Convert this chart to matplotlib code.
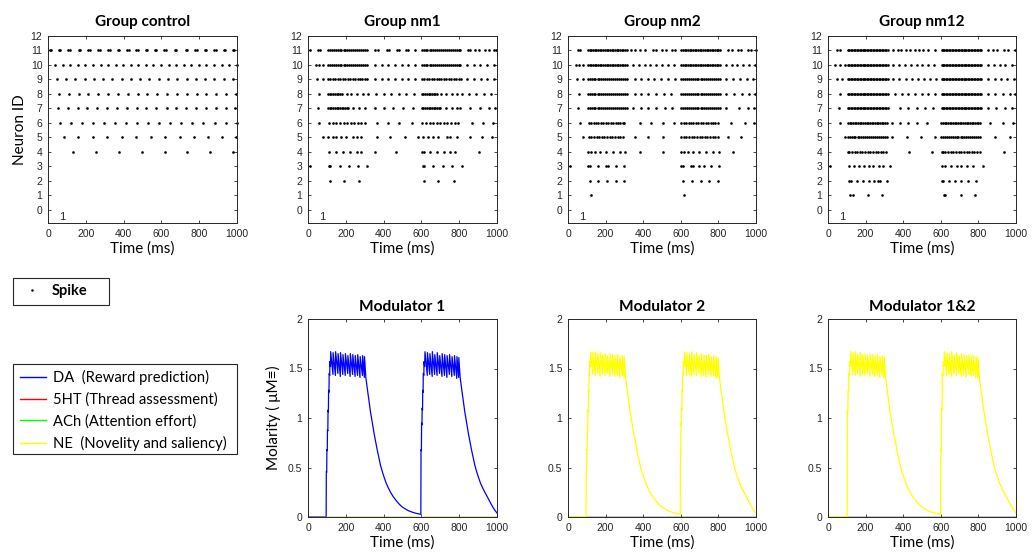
import matplotlib
matplotlib.use("Agg")
import matplotlib.pyplot as plt
from matplotlib.lines import Line2D
from matplotlib.patches import Rectangle
from matplotlib.ticker import FormatStrFormatter

# ---- spike trains (ms), one list per neuron ----
burst_solid_a = [106, 113, 121, 129, 137, 145, 152, 160, 168, 176, 184, 191, 199, 207,
                 215, 223, 230, 238, 246, 254, 262, 269, 277, 285, 293, 301, 309, 317]
burst_solid_b = [604, 611, 619, 627, 635, 643, 650, 658, 666, 674, 682, 689, 697, 705,
                 713, 721, 728, 736, 744, 752, 760, 767, 775, 783, 791, 799, 807, 815]
burst_dense_a = [106, 115, 124, 133, 142, 151, 160, 169, 178, 187, 196, 205, 214, 223,
                 232, 241, 250, 259, 268, 277, 286, 295, 304, 312]
burst_dense_b = [602, 611, 620, 629, 638, 647, 656, 665, 674, 683, 692, 701, 710, 719,
                 728, 737, 746, 755, 764, 773, 782, 791, 800, 808]
burst_mid_a = [106, 116, 126, 136, 146, 157, 167, 177, 188, 198, 208, 219, 229, 239,
               250, 260, 270, 281, 291, 301, 312]
burst_mid_b = [602, 612, 622, 632, 643, 653, 663, 674, 684, 694, 705, 715, 725, 736,
               746, 756, 767, 777, 787, 797, 806]

control_spikes = {
    11: [8, 15, 58, 66, 108, 116, 163, 170, 214, 222, 266, 274, 318, 326, 368, 376, 418, 426,
         468, 475, 518, 526, 566, 574, 616, 623, 670, 678, 728, 735, 778, 786, 830, 838,
         880, 887, 930, 937, 978, 986],
    10: [38, 78, 118, 158, 198, 238, 278, 318, 358, 398, 438, 478, 518, 558, 598, 638, 678,
         718, 758, 798, 838, 878, 918, 958, 998],
    9: [48, 96, 145, 194, 243, 292, 341, 390, 439, 488, 537, 586, 635, 684, 733, 782, 831,
        880, 929, 978],
    8: [59, 110, 162, 214, 266, 318, 370, 422, 474, 526, 578, 630, 682, 734, 786, 838, 890,
        942, 994],
    7: [53, 107, 160, 208, 261, 311, 364, 417, 471, 520, 573, 627, 678, 731, 785, 834, 887,
        941, 990],
    6: [62, 120, 178, 236, 295, 353, 412, 470, 529, 588, 646, 705, 764, 822, 881, 940, 998],
    5: [83, 160, 237, 314, 391, 467, 544, 620, 697, 773, 849, 922, 996],
    4: [133, 255, 376, 497, 617, 738, 858, 979],
}

nm1_spikes = {
    11: [12, 53, 65] + burst_mid_a + [357, 372, 416, 428, 469, 483, 517, 531, 566]
        + burst_mid_b + [844, 858, 885, 903, 938, 956, 982, 996],
    10: [41, 58, 80] + burst_mid_a + [354, 389, 425, 460, 496, 531, 566]
        + burst_mid_b + [841, 876, 912, 947, 982],
    9: [48, 80, 106, 119, 132, 145, 158, 171, 184, 197, 210, 223, 236, 249, 262, 275, 288,
        301, 314, 355, 390, 425, 460, 496, 531, 566, 602, 615, 628, 641, 654, 667, 680, 693,
        706, 719, 732, 745, 758, 771, 784, 797, 808, 843, 878, 914, 949, 984],
    8: [58, 106, 115, 124, 133, 142, 151, 160, 169, 178, 205, 230, 260, 290, 318, 360, 400,
        440, 480, 520, 560, 602, 611, 620, 629, 638, 647, 656, 665, 674, 683, 705, 730, 760,
        790, 815, 850, 890, 930, 970],
    7: [53, 106, 115, 124, 133, 142, 151, 160, 169, 178, 187, 196, 205, 212, 239, 269, 301,
        354, 402, 451, 504, 554, 602, 611, 620, 629, 638, 647, 656, 665, 674, 683, 692, 700,
        730, 760, 790, 806, 858, 912, 956, 991],
    6: [58, 112, 132, 150, 170, 188, 207, 226, 245, 264, 283, 300, 363, 421, 483, 549, 605,
        624, 643, 662, 681, 700, 719, 738, 757, 776, 795, 867, 926, 977],
    5: [80, 106, 133, 150, 177, 200, 239, 257, 283, 363, 434, 513, 584, 611, 637, 664, 690,
        735, 752, 788, 858, 920, 973],
    4: [112, 150, 186, 221, 257, 283, 354, 466, 605, 615, 646, 681, 717, 749, 779, 903],
    3: [10, 112, 119, 168, 218, 266, 313, 607, 614, 664, 713, 761, 814],
    2: [115, 191, 271, 614, 690, 770],
}

nm2_spikes = {
    11: [53, 66] + burst_dense_a + [337, 355, 385, 408, 453, 467, 502, 519, 551, 568]
        + burst_dense_b + [852, 870, 906, 920, 959, 972, 998],
    10: [41, 58, 80] + burst_dense_a + [346, 378, 408, 438, 470, 502, 532, 563]
        + burst_dense_b + [840, 870, 900, 929, 964, 994],
    9: [48, 80] + burst_mid_a + [354, 390, 425, 460, 496, 532, 567]
       + burst_mid_b + [843, 879, 914, 950, 985],
    8: [58] + burst_mid_a + [354, 390, 425, 470, 510, 550]
       + burst_mid_b + [843, 884, 923, 964, 994],
    7: [53] + burst_mid_a + [346, 390, 425, 470, 515, 555]
       + burst_mid_b + [841, 908, 956, 991],
    6: [62, 110, 123, 136, 149, 162, 175, 188, 201, 214, 227, 240, 253, 266, 279, 292, 300,
        381, 443, 505, 566, 602, 615, 628, 641, 654, 667, 680, 693, 706, 719, 732, 745, 758,
        771, 784, 797, 867, 943, 991],
    5: [80, 110, 124, 138, 152, 166, 180, 194, 208, 222, 236, 250, 264, 278, 292, 354, 425,
        504, 602, 616, 630, 644, 658, 672, 686, 700, 714, 728, 742, 756, 770, 784, 798, 850,
        920],
    4: [106, 124, 145, 168, 204, 239, 274, 301, 384, 504, 602, 619, 640, 664, 699, 735, 770,
        805, 875],
    3: [10, 106, 119, 159, 200, 212, 253, 296, 602, 614, 655, 664, 699, 726, 761, 805],
    2: [115, 159, 207, 253, 296, 611, 660, 708, 752, 800],
    1: [124, 619],
}

nm12_spikes = {
    11: [48, 65] + burst_solid_a + [348, 371, 389, 413, 436, 463, 484, 507, 534, 569]
        + burst_solid_b + [852, 878, 901, 936, 958, 993],
    10: [39, 65, 92] + burst_solid_a + [348, 378, 410, 442, 472, 502, 534, 565]
        + burst_solid_b + [852, 883, 913, 943, 979],
    9: [48, 74] + burst_solid_a + [348, 380, 413, 445, 477, 511, 542, 574]
       + burst_solid_b + [852, 887, 919, 954, 989],
    8: [65] + burst_solid_a + [357, 392, 428, 463, 498, 534, 569]
       + burst_solid_b + [852, 890, 931, 966, 993],
    7: [57] + burst_solid_a + [383, 428, 472, 516, 560]
       + burst_solid_b + [852, 896, 940, 979],
    6: [65] + burst_dense_a + [339, 383, 428, 472, 525]
       + burst_dense_b + [860, 931, 984],
    5: [88] + burst_mid_a + [343, 419, 495, 569] + burst_mid_b + [887, 966],
    4: [106, 113, 127, 141, 155, 169, 183, 197, 211, 225, 239, 253, 267, 281, 295, 309, 431,
        551, 604, 611, 625, 639, 653, 667, 681, 695, 709, 723, 737, 751, 765, 779, 793, 807,
        936],
    3: [12, 113, 136, 163, 189, 216, 242, 269, 295, 330, 604, 625, 654, 684, 710, 742, 772,
        825],
    2: [113, 120, 154, 184, 216, 246, 265, 277, 313, 604, 611, 643, 675, 710, 746, 786],
    1: [118, 131, 212, 286, 618, 625, 710, 781],
}

group_titles = ["Group control", "Group nm1", "Group nm2", "Group nm12"]
neuron_ticks = list(range(0, 13))

# ---- modulator concentration traces (time in ms, molarity) ----
onset_a_t = [0, 96, 97, 99, 100, 102, 103, 105, 106, 108, 109, 111, 112, 115, 116, 119]
onset_a_v = [0, 0, 0.46, 0.45, 0.68, 0.67, 0.88, 0.87, 1.08, 1.06, 1.28, 1.26, 1.45, 1.43,
             1.57, 1.52]
plateau_a_t = [120, 132, 133, 145, 146, 158, 159, 171, 172, 184, 185, 197, 198, 210, 211,
               223, 224, 236, 237, 249, 250, 262, 263, 275, 276, 288, 289, 298, 299]
plateau_a_v = [1.67, 1.44, 1.66, 1.43, 1.67, 1.45, 1.65, 1.42, 1.66, 1.44, 1.64, 1.43, 1.65,
               1.45, 1.63, 1.42, 1.65, 1.44, 1.64, 1.42, 1.63, 1.43, 1.64, 1.41, 1.62, 1.43,
               1.63, 1.41, 1.62]
decay_a_t = [303, 306, 310, 315, 320, 325, 330, 336, 343, 350, 358, 366, 375, 384, 393, 403,
             414, 426, 438, 451, 465, 480, 496, 512, 530, 550, 572, 597]
decay_a_v = [1.50, 1.41, 1.35, 1.28, 1.21, 1.14, 1.07, 1.00, 0.92, 0.84, 0.76, 0.68, 0.60,
             0.52, 0.46, 0.40, 0.34, 0.29, 0.245, 0.205, 0.17, 0.135, 0.105, 0.085, 0.065,
             0.05, 0.037, 0.027]
onset_b_t = [598, 600, 601, 603, 604, 606, 607, 609, 610, 613, 614, 617]
onset_b_v = [0.68, 0.67, 0.95, 0.93, 1.10, 1.08, 1.28, 1.26, 1.45, 1.43, 1.57, 1.52]
plateau_b_t = [619, 631, 632, 644, 645, 657, 658, 670, 671, 683, 684, 696, 697, 709, 710,
               722, 723, 735, 736, 748, 749, 761, 762, 774, 775, 787, 788, 797, 798]
plateau_b_v = [1.67, 1.43, 1.66, 1.44, 1.65, 1.42, 1.67, 1.44, 1.64, 1.43, 1.66, 1.45, 1.63,
               1.42, 1.65, 1.43, 1.64, 1.41, 1.63, 1.44, 1.64, 1.42, 1.62, 1.43, 1.63, 1.40,
               1.62, 1.41, 1.61]
decay_b_t = [802, 805, 809, 814, 819, 824, 829, 835, 842, 849, 857, 865, 874, 883, 892, 902,
             913, 925, 937, 950, 962, 975, 988, 1000]
decay_b_v = [1.50, 1.41, 1.35, 1.28, 1.21, 1.14, 1.07, 1.00, 0.92, 0.84, 0.76, 0.68, 0.60,
             0.52, 0.46, 0.40, 0.34, 0.29, 0.245, 0.20, 0.155, 0.11, 0.07, 0.04]

# combined condition switches on a little later, in bigger steps
onset12_a_t = [0, 102, 103, 106, 107, 110, 111, 115, 116, 119]
onset12_a_v = [0, 0, 1.08, 1.07, 1.28, 1.27, 1.45, 1.43, 1.57, 1.52]
onset12_b_t = [599, 600, 603, 604, 607, 608, 612, 613, 617]
onset12_b_v = [0.02, 0.68, 0.66, 1.10, 1.08, 1.45, 1.43, 1.57, 1.52]

zero_t = [0, 1000]
zero_v = [0, 0]

modulator_names = ["DA  (Reward prediction)", "5HT (Thread assessment)",
                   "ACh (Attention effort)", "NE  (Novelity and saliency)"]
modulator_colors = ["#0000ff", "#ff0000", "#00ff00", "#ffff00"]
panel_titles = ["Modulator 1", "Modulator 2", "Modulator 1&2"]
molarity_ticks = [0, 0.5, 1, 1.5, 2]

mod1_t = onset_a_t + plateau_a_t + decay_a_t + onset_b_t + plateau_b_t + decay_b_t
mod1_v = onset_a_v + plateau_a_v + decay_a_v + onset_b_v + plateau_b_v + decay_b_v
mod12_t = onset12_a_t + plateau_a_t + decay_a_t + onset12_b_t + plateau_b_t + decay_b_t
mod12_v = onset12_a_v + plateau_a_v + decay_a_v + onset12_b_v + plateau_b_v + decay_b_v

# which trace each panel shows per modulator (DA, 5HT, ACh, NE)
panel_traces = [
    [(mod1_t, mod1_v), (zero_t, zero_v), (zero_t, zero_v), (zero_t, zero_v)],
    [(zero_t, zero_v), (zero_t, zero_v), (zero_t, zero_v), (mod1_t, mod1_v)],
    [(zero_t, zero_v), (zero_t, zero_v), (zero_t, zero_v), (mod12_t, mod12_v)],
]

AX_COLOR = "#262626"
plt.rcParams['font.family'] = ['Lato', 'DejaVu Sans']

fig = plt.figure(figsize=(10.34, 5.59), dpi=100)
W, H = 1034.0, 559.0


def box(x0, y0, x1, y1):
    return [x0 / W, 1 - y1 / H, (x1 - x0) / W, (y1 - y0) / H]


def style(ax):
    ax.set_xlim(0, 1000)
    ax.set_xticks([0, 200, 400, 600, 800, 1000])
    ax.tick_params(direction='in', length=2.5, width=0.6, top=True, right=True,
                   labelsize=7.5, colors=AX_COLOR, pad=4)
    for lab in ax.get_xticklabels() + ax.get_yticklabels():
        lab.set_family('Liberation Sans')
    for s in ax.spines.values():
        s.set_linewidth(0.7)
        s.set_color(AX_COLOR)
    ax.set_xlabel("Time (ms)", fontsize=11, color="black", labelpad=2)


raster_boxes = [(48, 36, 237, 223), (308, 36, 497, 223), (568, 36, 756, 223),
                (828, 36, 1016, 223)]
groups = [control_spikes, nm1_spikes, nm2_spikes, nm12_spikes]

for bx, spikes, title in zip(raster_boxes, groups, group_titles):
    ax = fig.add_axes(box(*bx))
    for nid, times in spikes.items():
        ax.plot(times, [nid] * len(times), 'o', ms=1.9, mew=0, color='k', clip_on=False)
    ax.set_ylim(-0.92, 12)
    ax.set_yticks(neuron_ticks)
    style(ax)
    ax.set_title(title, fontsize=11, fontweight='bold', pad=7)
    ax.text(60, -0.5, "1", fontsize=8, family='Liberation Sans', color=AX_COLOR, va='center')
    if title == group_titles[0]:
        ax.set_ylabel("Neuron ID", fontsize=11, labelpad=2.5)

mod_boxes = [(308, 319, 497, 517), (568, 319, 756, 517), (828, 319, 1016, 517)]
for k, (bx, traces, title) in enumerate(zip(mod_boxes, panel_traces, panel_titles)):
    ax = fig.add_axes(box(*bx))
    for (t, v), c in zip(traces, modulator_colors):
        ax.plot(t, v, color=c, lw=0.9)
    ax.set_ylim(0, 2)
    ax.set_yticks(molarity_ticks)
    ax.yaxis.set_major_formatter(FormatStrFormatter('%g'))
    style(ax)
    ax.set_title(title, fontsize=11.2, fontweight='bold', pad=6)
    if k == 0:
        ax.set_ylabel("Molarity ( \u03bcM\u2261)", fontsize=11, labelpad=5)

# legends with square black frames
spike_handle = Line2D([], [], ls='none', marker='o', ms=1.8, mew=0, color='k')
fig.legend([spike_handle], ["Spike"], loc='upper left', bbox_to_anchor=(25 / W, 1 - 284 / H),
           frameon=False, borderaxespad=0, borderpad=0, handlelength=1.0,
           handletextpad=0.8, prop={'weight': 'bold', 'size': 10.5})
fig.add_artist(Rectangle((13 / W, 1 - 305 / H), 96 / W, 27 / H, transform=fig.transFigure,
                         fill=False, ec=AX_COLOR, lw=0.8))

mod_handles = [Line2D([], [], color=c, lw=1.0) for c in modulator_colors]
fig.legend(mod_handles, modulator_names, loc='upper left', bbox_to_anchor=(20 / W, 1 - 370 / H),
           frameon=False, borderaxespad=0, borderpad=0, handlelength=1.75,
           handletextpad=0.48, labelspacing=0.5, prop={'size': 10.6})
fig.add_artist(Rectangle((13 / W, 1 - 454 / H), 224 / W, 90 / H, transform=fig.transFigure,
                         fill=False, ec=AX_COLOR, lw=0.8))

fig.savefig("out.png", dpi=100)
